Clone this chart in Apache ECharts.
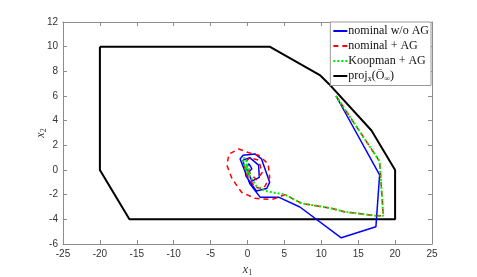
<!DOCTYPE html>
<html>
<head>
<meta charset="utf-8">
<script src="https://cdn.jsdelivr.net/npm/echarts@6/dist/echarts.min.js"></script>
<style>html,body{margin:0;padding:0;background:#fff;}#c{width:477px;height:277px;}</style>
</head>
<body>
<div id="c"></div>
<script>
const xTicks = [-25,-20,-15,-10,-5,0,5,10,15,20,25];
const yTicks = [-6,-4,-2,0,2,4,6,8,10,12];
const seriesNames = ['nominal w/o AG','nominal + AG','Koopman + AG','proj'];

const nominalNoAG = [[12,6],[17.9,-0.4],[17.4,-4.6],[12.7,-5.5],[7.1,-3.0],[4.2,-2.2],[1.7,-2.2],[0.3,-1.1],[-1.0,0.9],[-0.6,1.2],[1.0,1.3],[1.9,0.9],[3.0,-1.0],[2.6,-1.5],[1.2,-1.7],[-0.2,-0.5],[-0.6,0.8],[0.3,1.0],[1.5,0.4],[1.6,-0.6],[0.6,-0.9],[-0.2,0.2],[0.2,0.5],[0.6,0.1],[0.1,-0.2],[0,0]];

const nominalAG = [[12,6],[17.9,0.7],[18.4,-3.7],[17.3,-3.7],[13.2,-3.4],[11.3,-3.1],[7.3,-2.7],[5.1,-2.0],[3.3,-2.4],[1.0,-2.3],[-0.8,-1.8],[-2.1,-0.7],[-2.8,0.4],[-2.5,1.3],[-1.2,1.7],[0.2,1.4],[1.5,1.2],[2.8,0.5],[3.0,-0.6],[2.2,-1.5],[1.0,-1.4],[0.0,-0.5],[-0.5,0.5],[0.3,1.0],[1.5,0.8],[2.0,-0.2],[1.2,-0.8],[0.3,-0.2],[0,0]];

const koopmanAG = [[12,6],[17.9,0.7],[18.4,-3.7],[17.3,-3.7],[13.2,-3.4],[11.3,-3.1],[7.3,-2.7],[5.1,-2.0],[2.4,-1.7],[1.2,-1.3],[0.2,-0.4],[-0.6,0.6],[-0.5,1.0],[0.0,0.6],[-0.3,0.1],[0.3,-0.5],[0.2,0.2],[-0.2,0.4],[0,0]];

const projSet = [[-20,10],[3,10],[9.8,7.7],[11,7.0],[16.8,3.2],[20,0],[20,-4],[-16,-4],[-20,0],[-20,10]];

const chart = echarts.init(document.getElementById('c'));
const axisCol = '#8c8c8c';
const labelStyle = {color:'#333', fontFamily:'Liberation Sans, Arial, sans-serif', fontSize:10};
const baseX = {type:'value', min:-25, max:25, interval:5,
  axisLine:{show:true, onZero:false, lineStyle:{color:axisCol, width:1}},
  axisTick:{show:true, inside:true, length:4, lineStyle:{color:axisCol}},
  splitLine:{show:false}};
const baseY = {type:'value', min:-6, max:12, interval:2,
  axisLine:{show:true, onZero:false, lineStyle:{color:axisCol, width:1}},
  axisTick:{show:true, inside:true, length:4, lineStyle:{color:axisCol}},
  splitLine:{show:false}};
const serif = 'Liberation Serif, DejaVu Serif, serif';

chart.setOption({
  animation:false,
  backgroundColor:'#fff',
  grid:{left:63, right:45, top:22, bottom:33, containLabel:false, outerBoundsMode:'none'},
  xAxis:[
    Object.assign({}, baseX, {position:'bottom',
      axisLabel:Object.assign({margin:5}, labelStyle),
      name:'{i|x}{s|1}', nameLocation:'middle', nameGap:19, nameMoveOverlap:false,
      nameTextStyle:{rich:{i:{fontFamily:serif, fontStyle:'italic', fontSize:12, color:'#333'}, s:{fontFamily:serif, fontSize:8, color:'#333', padding:[6,0,0,0]}}}}),
    Object.assign({}, baseX, {position:'top', axisLabel:{show:false}})
  ],
  yAxis:[
    Object.assign({}, baseY, {position:'left',
      axisLabel:Object.assign({margin:5}, labelStyle),
      name:'{i|x}{s|2}', nameLocation:'middle', nameGap:15, nameRotate:90, nameMoveOverlap:false,
      nameTextStyle:{rich:{i:{fontFamily:serif, fontStyle:'italic', fontSize:12, color:'#333'}, s:{fontFamily:serif, fontSize:8, color:'#333', padding:[6,0,0,0]}}}}),
    Object.assign({}, baseY, {position:'right', axisLabel:{show:false}})
  ],
  legend:{
    orient:'vertical', right:46, top:22,
    backgroundColor:'#fff', borderColor:'#999', borderWidth:1,
    padding:[3,2,3,2], itemGap:3, itemWidth:14, itemHeight:12,
    itemStyle:{opacity:0},
    data:seriesNames,
    formatter:function(name){
      if(name==='proj') return '{n|proj}{s|x}{n|(Ō}{s|∞}{n|)}';
      return '{n|'+name+'}';
    },
    textStyle:{padding:[0,0,0,-4], rich:{
      n:{fontFamily:serif, fontSize:12, color:'#111', lineHeight:13},
      s:{fontFamily:serif, fontSize:8, color:'#111', padding:[5,0,0,0]}
    }}
  },
  series:[
    {name:seriesNames[0], type:'line', data:nominalNoAG, symbol:'none', z:3,
     lineStyle:{color:'#0000ff', width:1.5}, itemStyle:{color:'#0000ff'}},
    {name:seriesNames[1], type:'line', data:nominalAG, symbol:'none', z:4,
     lineStyle:{color:'#ff0000', width:1.5, type:[5,4]}, itemStyle:{color:'#ff0000'}},
    {name:seriesNames[2], type:'line', data:koopmanAG, symbol:'none', z:5,
     lineStyle:{color:'#00ee00', width:2, type:[2,2]}, itemStyle:{color:'#00ee00'}},
    {name:seriesNames[3], type:'line', data:projSet, symbol:'none', z:2,
     lineStyle:{color:'#000', width:2}, itemStyle:{color:'#000'}}
  ]
});
</script>
</body>
</html>
